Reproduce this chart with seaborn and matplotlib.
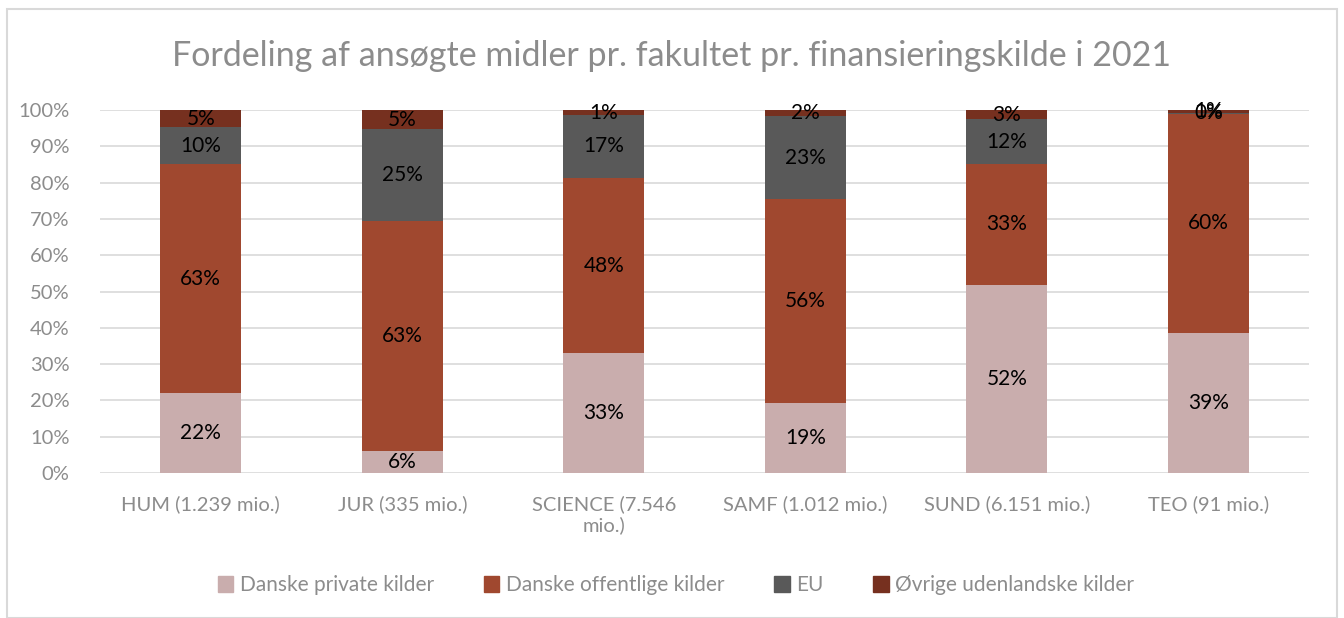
import matplotlib
matplotlib.use("Agg")
import matplotlib.pyplot as plt
import matplotlib.patches as mpatches
import pandas as pd
import seaborn as sns

categories = ["HUM (1.239 mio.)", "JUR (335 mio.)", "SCIENCE (7.546\nmio.)",
              "SAMF (1.012 mio.)", "SUND (6.151 mio.)", "TEO (91 mio.)"]
series_names = ["Danske private kilder", "Danske offentlige kilder", "EU",
                "Øvrige udenlandske kilder"]
private = [22.0, 6.2, 33.0, 19.3, 51.8, 38.7]
public = [63.0, 63.1, 48.3, 56.1, 33.4, 60.3]
eu = [10.2, 25.4, 17.3, 22.9, 12.2, 0.2]
other = [4.8, 5.3, 1.4, 1.7, 2.6, 0.8]
colors = ["#C9ADAD", "#A0482F", "#595959", "#76301F"]

grey = "#8C8C8C"


def create_plot():
    sns.set_style("white")
    plt.rcParams["font.family"] = ["Lato", "DejaVu Sans"]
    fig = plt.figure(figsize=(13.44, 6.18), dpi=100)
    ax = fig.add_axes([0.0744, 0.2346, 0.8996, 0.5874])

    values = [private, public, eu, other]
    bottom = [0.0] * len(categories)
    for name, vals, col in zip(series_names, values, colors):
        df = pd.DataFrame({"cat": categories, "val": [v / 100 for v in vals]})
        sns.barplot(data=df, x="cat", y="val", ax=ax, color=col, width=0.4,
                    bottom=[b / 100 for b in bottom], saturation=1,
                    edgecolor="none", linewidth=0)
        for i, v in enumerate(vals):
            ax.text(i, (bottom[i] + v / 2) / 100, f"{round(v):.0f}%",
                    ha="center", va="center", fontsize=15, color="black")
        bottom = [b + v for b, v in zip(bottom, vals)]

    ax.set_ylim(0, 1.0)
    ax.set_xlim(-0.5, len(categories) - 0.5)
    ax.set_yticks([i / 10 for i in range(11)])
    ax.set_yticklabels([f"{i * 10}%" for i in range(11)])
    ax.yaxis.grid(True, color="#D9D9D9", linewidth=1.2)
    ax.set_axisbelow(True)
    for s in ax.spines.values():
        s.set_visible(False)
    ax.tick_params(axis="both", length=0, labelsize=14.5, labelcolor=grey)
    ax.tick_params(axis="y", pad=22)
    ax.tick_params(axis="x", pad=16)
    ax.set_xlabel("")
    ax.set_ylabel("")

    fig.text(0.5, 0.91, "Fordeling af ansøgte midler pr. fakultet pr. finansieringskilde i 2021",
             ha="center", va="center", fontsize=24.5, color=grey)

    handles = [mpatches.Patch(color=c, label=n) for n, c in zip(series_names, colors)]
    fig.legend(handles=handles, loc="center", bbox_to_anchor=(0.503, 0.053), ncol=4,
               frameon=False, fontsize=15, labelcolor=grey, handlelength=0.75,
               handleheight=0.75, handletextpad=0.3, columnspacing=2.4)

    fig.patches.append(mpatches.Rectangle((0.005, 0.0), 0.99, 0.985, transform=fig.transFigure,
                                          fill=False, edgecolor="#D9D9D9", linewidth=1.5))
    plt.savefig("out.png", dpi=100)
    plt.close()


def main():
    create_plot()


if __name__ == "__main__":
    main()
